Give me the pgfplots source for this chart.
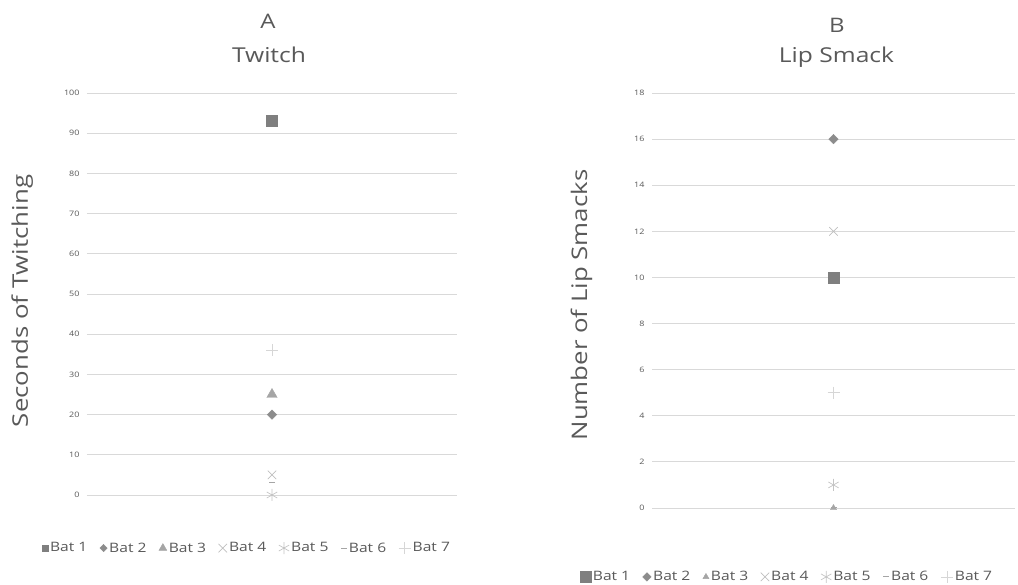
\documentclass[border=0pt]{standalone}
\usepackage{pgfplots}
\pgfplotsset{compat=1.18}
\usepackage{fontspec}
\setmainfont{Open Sans}[FakeStretch=1.2]
\definecolor{txt}{HTML}{595959}
\definecolor{grd}{HTML}{D9D9D9}
\definecolor{cA}{HTML}{7F7F7F}
\definecolor{cB}{HTML}{8C8C8C}
\definecolor{cC}{HTML}{A5A5A5}
\definecolor{cD}{HTML}{BFBFBF}
\definecolor{cE}{HTML}{C4C4C4}
\definecolor{cF}{HTML}{A5A5A5}
\definecolor{cG}{HTML}{D6D6D6}
\pgfplotsset{
  batstyle/.style={
    scale only axis,
    xmin=0, xmax=2, ymin=0,
    axis line style={draw=none},
    tick style={draw=none},
    xtick=\empty,
    ymajorgrids, grid style={grd, line width=0.8pt},
    yticklabel style={font=\fontsize{7.5}{8}\selectfont, text=txt, xshift=-4pt},
    /pgf/number format/assume math mode=true,
    clip=false,
    legend columns=-1,
    legend style={draw=none, fill=none, font=\fontsize{13}{15}\selectfont, text=txt,
      /tikz/every even column/.append style={column sep=10.5pt}},
    legend cell align=left,
  },
  b1/.style={only marks, mark=square*, mark size=5.5pt, color=cA},
  b2/.style={only marks, mark=square*, mark size=3.4pt, color=cB, mark options={rotate=45}},
  b3/.style={only marks, mark=triangle*, mark size=6pt, color=cC},
  b4/.style={only marks, mark=x, mark size=6pt, color=cD, mark options={line width=0.7pt}},
  b5/.style={only marks, mark=asterisk, mark size=6pt, color=cE, mark options={line width=0.7pt}},
  b6/.style={only marks, mark=-, mark size=3pt, color=cF, mark options={line width=1pt}},
  b7/.style={only marks, mark=+, mark size=6pt, color=cG, mark options={line width=0.7pt}},
}
\begin{document}
\begin{tikzpicture}[x=1pt,y=1pt]
\path[use as bounding box] (0,0) rectangle (1018,585);
% Panel A
\begin{axis}[batstyle,
  at={(87pt,90pt)}, anchor=south west,
  width=370pt, height=402pt,
  ymax=100, ytick={0,10,...,100},
  legend style={at={(0.432,-0.132)}, anchor=center},
]
\addplot[b1, legend image post style={mark size=3.2pt}] coordinates {(1,93)};
\addplot[b2, legend image post style={mark size=2.6pt}] coordinates {(1,20)};
\addplot[b3, legend image post style={mark size=4.5pt}] coordinates {(1,25)};
\addplot[b4] coordinates {(1,5)};
\addplot[b5] coordinates {(1,0)};
\addplot[b6] coordinates {(1,3)};
\addplot[b7] coordinates {(1,36)};
\legend{Bat 1,Bat 2,Bat 3,Bat 4,Bat 5,Bat 6,Bat 7}
\end{axis}
% Panel B
\begin{axis}[batstyle,
  at={(652pt,77pt)}, anchor=south west,
  width=363pt, height=415pt,
  ymax=18, ytick={0,2,...,18},
  legend style={at={(0.372,-0.166)}, anchor=center},
]
\addplot[b1] coordinates {(1,10)};
\addplot[b2, legend image post style={mark size=3pt}] coordinates {(1,16)};
\addplot[b3, mark size=3.5pt] coordinates {(1,0)};
\addplot[b4] coordinates {(1,12)};
\addplot[b5] coordinates {(1,1)};
\addplot[b6] coordinates {(1,0)};
\addplot[b7] coordinates {(1,5)};
\legend{Bat 1,Bat 2,Bat 3,Bat 4,Bat 5,Bat 6,Bat 7}
\end{axis}
% Titles and labels
\node[text=txt, font=\fontsize{20}{22}\selectfont, anchor=base] at (268,585-29) {A};
\node[text=txt, font=\fontsize{20.5}{22}\selectfont, anchor=base] at (269,585-63) {Twitch};
\node[text=txt, font=\fontsize{20}{22}\selectfont, anchor=base] at (837,585-33) {B};
\node[text=txt, font=\fontsize{20.5}{22}\selectfont, anchor=base] at (836.5,585-63) {Lip Smack};
\node[text=txt, font=\fontsize{21.5}{23}\selectfont, rotate=90, anchor=base] at (28,585-301) {Seconds of Twitching};
\node[text=txt, font=\fontsize{21.5}{23}\selectfont, rotate=90, anchor=base] at (587,585-305) {Number of Lip Smacks};
\end{tikzpicture}
\end{document}
